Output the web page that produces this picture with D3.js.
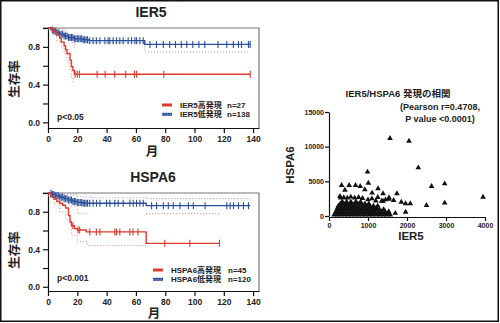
<!DOCTYPE html>
<html><head><meta charset="utf-8">
<script src="https://cdn.jsdelivr.net/npm/d3@7"></script>
<style>
body{margin:0;background:#fff;}
svg{display:block;}
text{font-family:"Liberation Sans","Noto Sans CJK JP",sans-serif;font-weight:bold;fill:#222;}
</style></head><body>
<script>
// ---------------- DATA ----------------
const monthTicks = [0,20,40,60,80,100,120,140];
const survTicks = [0,0.2,0.4,0.6,0.8,1.0];
const survLabelled = [0,0.4,0.8];

// IER5 panel
const ier5HighTimes = [0,3,6,8,9,11,12,13,15,16,17,18];
const ier5HighSurv  = [1,0.96,0.93,0.89,0.85,0.81,0.77,0.73,0.66,0.59,0.55,0.51];
const ier5HighEnd = 138;
const ier5HighCensor = [18.5,20,21.5,33.5,39,45.5,53,59,60.5,79,138];
const ier5HighCiUpT = [0,8,11,13,15,17,18];
const ier5HighCiUpV = [1,0.99,0.96,0.93,0.88,0.83,0.79];
const ier5HighCiLoT = [0,6,9,11,13,15,16,17,18];
const ier5HighCiLoV = [1,0.86,0.79,0.73,0.64,0.55,0.48,0.43,0.43];

const ier5LowTimes = [0,2,4,6,8,11,14,18,24,28,66];
const ier5LowSurv  = [1,0.98,0.965,0.95,0.935,0.915,0.90,0.885,0.875,0.866,0.826];
const ier5LowEnd = 138;
const ier5LowCensor = [3,4,5,6,7,8,9,10,11,12,13,14,15,16,17,18,19,20,21,22,23,24,25,26,27,
  28.5,30.8,33,35.4,38.8,41,42.2,44.5,46.8,49,51.3,54.7,57,59.3,60.5,62.7,65,
  69.6,74,78.7,83,87,91,94.7,98.8,103,107,116,122,126.5,130,132,136.8,138];
const ier5LowCiLoT = [0,6,12,20,28,66,138];
const ier5LowCiLoV = [0.99,0.93,0.89,0.86,0.845,0.746,0.746];

// HSPA6 panel
const hspaHighTimes = [0,2,4,6,8,10,12,14,15,16,18,20,26,67];
const hspaHighSurv  = [1,0.96,0.935,0.91,0.89,0.87,0.84,0.76,0.69,0.65,0.62,0.605,0.585,0.463];
const hspaHighEnd = 117;
const hspaHighCensor = [17,20.5,21.6,28.5,33,35.4,45.6,46.8,49,55.8,58,61.4,79.7,96.8,117];
const hspaHighCiUpT = [0,4,8,12,16,20,27,null,67,117];
const hspaHighCiUpV = [1,1,0.98,0.95,0.86,0.78,0.78,null,0.78,0.78];
const hspaHighCiLoT = [0,4,8,12,16,20,27,67];
const hspaHighCiLoV = [0.97,0.88,0.80,0.72,0.55,0.48,0.44,0.44];

const hspaLowTimes = [0,3,5,8,11,14,17,20,24,67];
const hspaLowSurv  = [1,0.985,0.97,0.955,0.94,0.925,0.91,0.90,0.89,0.865];
const hspaLowEnd = 138;
const hspaLowCensor = [2,3,4,5,6,7,8,9,10,11,12,13,14,15,16,17,18,19,20,21,22,23,24,25,26,27,
  28.5,30.8,33.1,35.4,40,42.2,45.6,47.9,51.3,55.9,58.2,60.4,62.7,65,
  70.7,74.1,78.7,82.1,85.5,90.1,95.8,99.2,107.2,122,124.3,126.6,130,133.4,136.8];
const hspaLowCiUpT = [0,10,20,30,67,138];
const hspaLowCiUpV = [1,0.98,0.96,0.95,0.94,0.94];

// Scatter
const ier5Ticks = [0,1000,2000,3000,4000];
const hspaTicks = [0,5000,10000,15000];
const scatterPoints = [
  // dense cluster
  [130,150],[220,150],[310,150],[400,150],[490,150],[580,150],[670,150],[760,150],[850,150],[940,150],
  [1030,150],[1120,150],[1210,150],[1300,150],[1390,150],[1480,150],[1570,150],
  [175,400],[265,400],[355,400],[445,400],[535,400],[625,400],[715,400],[805,400],[895,400],[985,400],
  [1075,400],[1165,400],[1255,400],[1345,400],[1435,400],[1525,400],
  [180,650],[270,650],[360,650],[450,650],[540,650],[630,650],[720,650],[810,650],[900,650],[990,650],
  [1080,650],[1170,650],[1260,650],[1350,650],[1440,650],[1530,650],
  [210,950],[300,950],[390,950],[480,950],[570,950],[660,950],[750,950],[840,950],[930,950],[1020,950],
  [1110,950],[1200,950],[1290,950],[1400,950],
  [225,1200],[315,1200],[405,1200],[495,1200],[585,1200],[675,1200],[765,1200],[855,1200],[945,1200],
  [1035,1200],[1125,1200],[1215,1200],
  [240,1450],[330,1450],[420,1450],[510,1450],[600,1450],[690,1450],[780,1450],[870,1450],[960,1450],
  [1050,1450],[1140,1450],[1250,1450],
  [290,1750],[380,1750],[470,1750],[560,1750],[650,1750],[740,1750],[830,1750],[920,1750],[1020,1750],
  [340,2050],[450,2050],[560,2050],[690,2050],[810,2050],
  [300,2600],[380,2650],[470,2600],[560,2750],[660,2600],[760,2700],[860,2550],[1000,2350],
  [1100,2500],[1200,2200],[1350,2150],[1450,2350],[1540,2450],[1250,2700],[1700,400],[1964,577],
  // sparser points
  [987,6350],[1008,4750],[323,4430],[518,4430],[681,4430],[800,4290],[408,3750],[918,3810],
  [1258,3950],[1105,3320],[1385,3230],[1742,3230],[1538,2650],[280,2840],[1854,2020],[1964,1790],
  [2084,1790],[1658,2260],[1385,2160],[2500,1540],[2630,4290],[2966,4660],[2966,1880],
  [3950,2740],[2290,6970],[1564,11200],[2051,10800]
];

// ---------------- DRAW ----------------
const W = 500, H = 323;
const RED = "#de3a2e", BLUE = "#2b4f9c";
const RED_L = "#ee9088", BLUE_L = "#8ea6d6";
const JP = "'Noto Sans CJK JP',sans-serif";
const svg = d3.select("body").append("svg").attr("width", W).attr("height", H);

svg.append("rect").attr("x",0.75).attr("y",0.75).attr("width",W-2.5).attr("height",H-2.5)
  .attr("fill","#fff").attr("stroke","#111").attr("stroke-width",1.5);

function survAt(times, surv, t){
  let v = surv[0];
  for (let i=0;i<times.length;i++){ if (times[i] <= t) v = surv[i]; }
  return v;
}

function drawKM(p){
  const x = d3.scaleLinear().domain([0,144]).range([p.left, p.right]);
  const y = d3.scaleLinear().domain([p.ymin,1]).range([p.bottom, p.top]);
  const g = svg.append("g");

  g.append("path").attr("d", `M${p.left-5},${y(1)}H${p.right}V${p.bottom}`)
    .attr("fill","none").attr("stroke","#777").attr("stroke-width",1.2);

  const ya = d3.axisLeft(y).tickValues(survTicks).tickSize(5).tickSizeOuter(0)
    .tickFormat(d => survLabelled.some(v=>Math.abs(v-d)<1e-9) ? d3.format(".1f")(d) : "");
  const yg = g.append("g").attr("transform",`translate(${p.left},0)`).call(ya);
  const xa = d3.axisBottom(x).tickValues(monthTicks).tickSize(5).tickSizeOuter(0);
  const xg = g.append("g").attr("transform",`translate(0,${p.bottom})`).call(xa);
  [yg,xg].forEach(a=>{
    a.selectAll("path,line").attr("stroke","#111").attr("stroke-width",1.2);
    a.selectAll("text").attr("font-size",8.5).attr("font-weight","bold").attr("fill","#222")
      .attr("font-family","Liberation Sans");
  });
  yg.selectAll("text").attr("x",-8);
  xg.selectAll("text").attr("y",8);

  const step = d3.line().curve(d3.curveStepAfter).x(d=>x(d[0])).y(d=>y(d[1]));
  const ciLine = d3.line().curve(d3.curveStepAfter).defined(d=>d[0]!==null).x(d=>x(d[0])).y(d=>y(d[1]));

  p.series.forEach(s=>{
    (s.ci||[]).forEach(c=>{
      g.append("path").datum(c[0].map((t,i)=>[t,c[1][i]])).attr("d",ciLine)
        .attr("fill","none").attr("stroke",s.light).attr("stroke-width",1.1)
        .attr("stroke-dasharray","1,2");
    });
  });
  p.series.forEach(s=>{
    const pts = s.times.map((t,i)=>[t,s.surv[i]]);
    pts.push([s.end, s.surv[s.surv.length-1]]);
    g.append("path").datum(pts).attr("d",step).attr("fill","none")
      .attr("stroke",s.color).attr("stroke-width",1.4);
    g.selectAll(null).data(s.censor).join("line")
      .attr("x1",d=>x(d)).attr("x2",d=>x(d))
      .attr("y1",d=>y(survAt(s.times,s.surv,d))-3.5).attr("y2",d=>y(survAt(s.times,s.surv,d))+3.5)
      .attr("stroke",s.color).attr("stroke-width",1.1);
  });

  svg.append("text").attr("x",p.titleX).attr("y",p.titleY).attr("text-anchor","middle")
    .attr("font-size",14).attr("dominant-baseline","central").text(p.title);
  svg.append("text").attr("font-family",JP).attr("transform",`translate(15,${p.ylabY}) rotate(-90)`)
    .attr("text-anchor","middle").attr("dominant-baseline","central").attr("font-size",12.5)
    .text("生存率");
  svg.append("text").attr("font-family",JP).attr("x",p.xlabX).attr("y",p.xlabY)
    .attr("text-anchor","middle").attr("dominant-baseline","central").attr("font-size",12.5)
    .text("月");
  svg.append("text").attr("x",57).attr("y",p.pY).attr("dominant-baseline","central")
    .attr("font-size",8.5).text(p.pText);
  p.legend.forEach((l,i)=>{
    const ly = p.legY + i*9.3;
    svg.append("line").attr("x1",p.legX).attr("x2",p.legX+10).attr("y1",ly).attr("y2",ly)
      .attr("stroke",l.color).attr("stroke-width",3);
    if (l.color===BLUE) svg.append("line").attr("x1",p.legX).attr("x2",p.legX+10).attr("y1",ly).attr("y2",ly)
      .attr("stroke","#9fb4de").attr("stroke-width",1).attr("stroke-dasharray","1,1.5");
    svg.append("text").attr("x",p.legTextX).attr("y",ly).attr("dominant-baseline","central")
      .attr("font-size",8).text(l.name);
    svg.append("text").attr("x",p.legNX).attr("y",ly).attr("dominant-baseline","central")
      .attr("font-size",8).text(l.n);
  });
}

drawKM({
  left:48, right:259, top:28, bottom:128, ymin:-0.06,
  title:"IER5", titleX:151, titleY:12, ylabY:79, xlabX:152, xlabY:152,
  pText:"p<0.05", pY:117, legX:162, legTextX:180, legNX:227, legY:105,
  legend:[{color:RED,name:"IER5高発現",n:"n=27"},{color:BLUE,name:"IER5低発現",n:"n=138"}],
  series:[
    {times:ier5LowTimes,surv:ier5LowSurv,end:ier5LowEnd,censor:ier5LowCensor,color:BLUE,light:BLUE_L,
     ci:[[ier5LowCiLoT,ier5LowCiLoV]]},
    {times:ier5HighTimes,surv:ier5HighSurv,end:ier5HighEnd,censor:ier5HighCensor,color:RED,light:RED_L,
     ci:[[ier5HighCiUpT,ier5HighCiUpV],[ier5HighCiLoT,ier5HighCiLoV]]}
  ]
});

drawKM({
  left:48, right:259, top:193, bottom:291, ymin:-0.045,
  title:"HSPA6", titleX:153, titleY:177, ylabY:250, xlabX:154, xlabY:314,
  pText:"p<0.001", pY:278, legX:153, legTextX:171, legNX:228, legY:270,
  legend:[{color:RED,name:"HSPA6高発現",n:"n=45"},{color:BLUE,name:"HSPA6低発現",n:"n=120"}],
  series:[
    {times:hspaLowTimes,surv:hspaLowSurv,end:hspaLowEnd,censor:hspaLowCensor,color:BLUE,light:BLUE_L,
     ci:[[hspaLowCiUpT,hspaLowCiUpV]]},
    {times:hspaHighTimes,surv:hspaHighSurv,end:hspaHighEnd,censor:hspaHighCensor,color:RED,light:RED_L,
     ci:[[hspaHighCiUpT,hspaHighCiUpV],[hspaHighCiLoT,hspaHighCiLoV]]}
  ]
});

// Scatter
(function(){
  const x = d3.scaleLinear().domain([0,4000]).range([329,485]);
  const y = d3.scaleLinear().domain([0,15000]).range([216,112]);
  const g = svg.append("g");
  const xa = d3.axisBottom(x).tickValues(ier5Ticks).tickSize(4).tickSizeOuter(0).tickFormat(d3.format("d"));
  const ya = d3.axisLeft(y).tickValues(hspaTicks).tickSize(4).tickSizeOuter(0).tickFormat(d3.format("d"));
  const xg = g.append("g").attr("transform","translate(0,217)").call(xa);
  const yg = g.append("g").attr("transform","translate(329,0)").call(ya);
  [xg,yg].forEach(a=>{
    a.selectAll("path,line").attr("stroke","#111").attr("stroke-width",1.2);
    a.selectAll("text").attr("font-size",7).attr("font-weight","bold").attr("fill","#222")
      .attr("font-family","Liberation Sans");
  });
  xg.selectAll("text").attr("y",6);
  yg.selectAll("text").attr("x",-5);
  const sym = d3.symbol().type(d3.symbolTriangle).size(14);
  g.selectAll(null).data(scatterPoints).join("path")
    .attr("d",sym).attr("transform",d=>`translate(${x(d[0])},${y(d[1])})`).attr("fill","#111");

  svg.append("text").attr("x",398).attr("y",93).attr("text-anchor","middle")
    .attr("dominant-baseline","central").attr("font-size",9.5).text("IER5/HSPA6 発現の相関");
  svg.append("text").attr("x",440).attr("y",107).attr("text-anchor","middle")
    .attr("dominant-baseline","central").attr("font-size",9).text("(Pearson r=0.4708,");
  svg.append("text").attr("x",440).attr("y",118.5).attr("text-anchor","middle")
    .attr("dominant-baseline","central").attr("font-size",9).text("P value <0.0001)");
  svg.append("text").attr("x",411).attr("y",236).attr("text-anchor","middle")
    .attr("dominant-baseline","central").attr("font-size",11.5).text("IER5");
  svg.append("text").attr("transform","translate(290,165) rotate(-90)").attr("text-anchor","middle")
    .attr("dominant-baseline","central").attr("font-size",11.5).text("HSPA6");
})();
</script>
</body></html>
